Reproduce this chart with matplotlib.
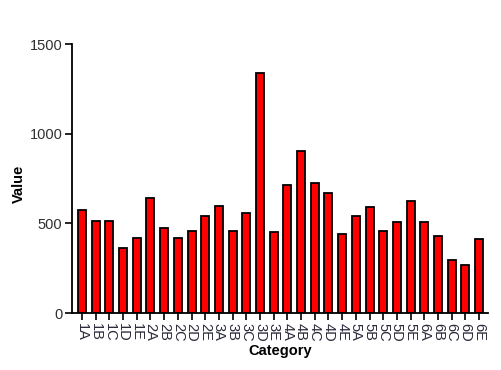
import numpy as np
import matplotlib
matplotlib.use("Agg")
import matplotlib.pyplot as plt

plt.rcParams['font.family'] = ['Liberation Sans', 'DejaVu Sans']

# datos
categorias = [f"{n}{l}" for n in range(1, 7) for l in "ABCDE"]
valores = [574, 515, 515, 362, 420,
           643, 472, 420, 457, 539,
           597, 457, 559, 1337, 450,
           714, 905, 727, 671, 442,
           539, 589, 457, 509, 625,
           509, 429, 296, 266, 413]

fig = plt.figure(figsize=(5.01, 3.70), dpi=100)
ax = fig.add_axes([0.144, 0.154, 0.830, 0.727])

x = np.arange(len(categorias))
ax.bar(x, valores, width=0.58, color='#ff0000', edgecolor='black', linewidth=1.3)

ax.set_xlim(-0.72, 29.65)
ax.set_ylim(0, 1500)
ax.set_yticks([0, 500, 1000, 1500])
ax.set_xticks(x)
ax.set_xticklabels(categorias, rotation=-90, fontsize=10.5)

ax.spines['top'].set_visible(False)
ax.spines['right'].set_visible(False)
for s in ['left', 'bottom']:
    ax.spines[s].set_linewidth(1.3)
ax.tick_params(axis='both', direction='out', length=5, width=1.2, labelsize=10.5, colors='black')
ax.tick_params(axis='x', pad=2, labelcolor='#2a2a3a')
ax.tick_params(axis='y', pad=2, labelcolor='#303030')

ax.set_xlabel('Category', fontweight='bold', fontsize=10.5, labelpad=2)
ax.set_ylabel('Value', fontweight='bold', fontsize=10.5)
ax.yaxis.set_label_coords(-0.111, 0.48)

fig.savefig('out.png', dpi=100)
